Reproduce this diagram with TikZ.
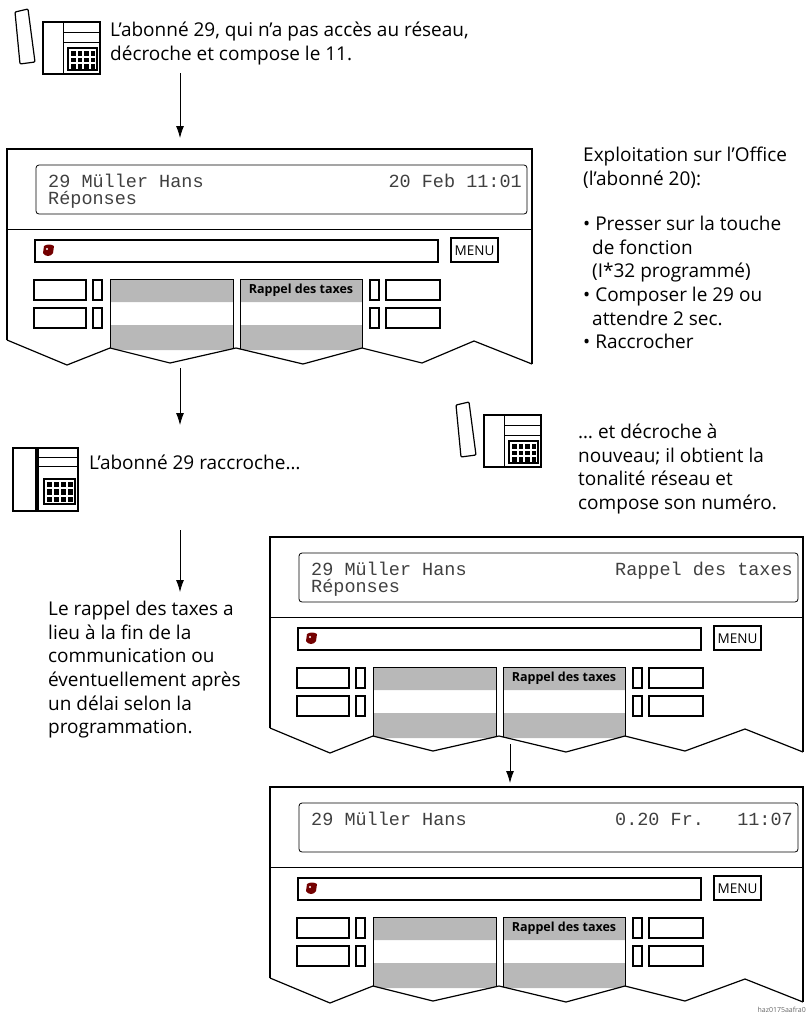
\documentclass[tikz,border=0pt]{standalone}
\usepackage{fontspec}
\setmainfont{Open Sans}
\newfontfamily\lcd{Liberation Mono}
\usetikzlibrary{arrows.meta}
\begin{document}
\begin{tikzpicture}[x=1pt,y=-1pt,
  txt/.style={anchor=north west,inner sep=0pt,align=left,font=\fontsize{19}{23.6}\selectfont},
  lcdt/.style={inner sep=0pt,font=\lcd\fontsize{18.5}{16}\selectfont,text=black!75},
  arr/.style={-{Latex[length=12pt,width=8pt]},line width=0.8pt},
  thk/.style={line width=1.4pt},
  key/.style={line width=1.2pt}]
\useasboundingbox (0,0) rectangle (806,1015);
% ---------- phone icons
\newcommand\phoneoff[2]{%
\begin{scope}[shift={(#1,#2)}]
 \draw[line width=1.2pt,rounded corners=1pt] (-28,-10)--(-15,-13)--(-8,40)--(-23,42)--cycle;
 \draw[line width=1.3pt] (0,0) rectangle (57,52);
 \draw[line width=1pt] (20,0)--(20,52) (20,10)--(57,10) (20,20)--(57,20);
 \draw[line width=1.2pt] (25,26) rectangle (54,48);
 \foreach \i in {0,1,2,3}{\foreach \j in {0,1,2}{\fill (28+\i*6.6,29+\j*6.6) rectangle +(4.6,4.6);}}
\end{scope}}
\newcommand\phoneon[2]{%
\begin{scope}[shift={(#1,#2)}]
 \draw[line width=1.3pt] (0,0) rectangle (23,63);
 \draw[line width=1.3pt] (25,0) rectangle (65,63);
 \draw[line width=1pt] (25,9)--(65,9) (25,18)--(65,18);
 \draw[line width=1.2pt] (31,31) rectangle (62,56);
 \foreach \i in {0,1,2,3}{\foreach \j in {0,1,2}{\fill (34+\i*7,34+\j*7.3) rectangle +(5,5.3);}}
\end{scope}}
% ---------- panel
\newcommand\mypanel[7]{%
\begin{scope}[shift={(#2,#3)}]
 \fill[black!28] (103,130) rectangle (226,153) (103,176) rectangle (226,201)
   (233,130) rectangle (355,153) (233,176) rectangle (355,201);
 \draw[line width=0.9pt] (103,201)--(103,130)--(226,130)--(226,201) (233,201)--(233,130)--(355,130)--(355,201);
 \node[inner sep=0pt,font=\bfseries\fontsize{12.5}{14}\selectfont] at (294,141.5) {Rappel des taxes};
 \draw[line width=1.2pt] (0,191)--(0,0)--(#4,0)--(#4,215);
 \fill[white] (0,191)--(60,216)--(103,199)--(163,214)--(229,199)--(296,215)--(355,199)--(415,214)--(#4-58,192)--(#4,215)--(#4,230)--(0,230)--cycle;
 \draw[line width=1.2pt] (0,191)--(60,216)--(103,199)--(163,214)--(229,199)--(296,215)--(355,199)--(415,214)--(#4-58,192)--(#4,215);
 \draw[line width=0.8pt,rounded corners=3pt] (29,16) rectangle (#4-5,65);
 \node[lcdt,anchor=base west] at (41,38) {#5};
 \node[lcdt,anchor=base east] at (#4-10,38) {#6};
 \node[lcdt,anchor=base west] at (41,55) {#7};
 \draw[line width=0.8pt] (0,80)--(#4,80);
 \draw[thk] (28,91) rectangle (431,113);
 \fill[red!45!black] (37,97) .. controls (40,95) and (44,95) .. (47,97) -- (46,104) .. controls (44,108) and (38,108) .. (36,104) -- cycle;
 \fill[white] (40,100) circle (1.2);
 \draw[thk] (444,89) rectangle (491,113);
 \node[inner sep=0pt,font=\fontsize{13.5}{16}\selectfont] at (467.5,101.5) {MENU};
 \draw[key] (27,131) rectangle (79,151) (27,159) rectangle (79,179) (86,131) rectangle (95,151) (86,159) rectangle (95,179)
   (363,131) rectangle (372,151) (363,159) rectangle (372,179) (379,131) rectangle (433,151) (379,159) rectangle (433,179);
\end{scope}}
% ---------- content
\phoneoff{43}{22}
\node[txt] (t1) at (110,22) {L’abonné 29, qui n’a pas accès au réseau,\\décroche et compose le 11.};
\coordinate (a1s) at (180,73); \coordinate (a1e) at (180,138);
\draw[arr] (a1s)--(a1e);
\mypanel{p1}{7}{149}{525}{29 Müller Hans}{20 Feb 11:01}{Réponses}
\node[txt] (t2) at (583,147) {Exploitation sur l’Office\\(l’abonné 20):};
\node[txt] (t3) at (583,216) {• Presser sur la touche\\\hspace*{9pt}de fonction\\\hspace*{9pt}(I*32 programmé)\\• Composer le 29 ou\\\hspace*{9pt}attendre 2 sec.\\• Raccrocher};
\coordinate (a2s) at (180,368); \coordinate (a2e) at (180,425);
\draw[arr] (a2s)--(a2e);
\phoneon{13}{448}
\node[txt] (t4) at (89,455) {L’abonné 29 raccroche…};
\phoneoff{484}{415}
\node[txt] (t5) at (578,424) {… et décroche à\\nouveau; il obtient la\\tonalité réseau et\\compose son numéro.};
\coordinate (a3s) at (180,530); \coordinate (a3e) at (180,592);
\draw[arr] (a3s)--(a3e);
\node[txt] (t6) at (48,601) {Le rappel des taxes a\\lieu à la fin de la\\communication ou\\éventuellement après\\un délai selon la\\programmation.};
\mypanel{p2}{270}{537}{533}{29 Müller Hans}{Rappel des taxes}{Réponses}
\coordinate (a4s) at (510,744); \coordinate (a4e) at (510,783);
\draw[arr] (a4s)--(a4e);
\mypanel{p3}{270}{787}{533}{29 Müller Hans}{0.20 Fr.\ \ \ 11:07}{}
\node[inner sep=0pt,anchor=south east,font=\fontsize{7}{8}\selectfont,text=black!60] (tag) at (806,1013) {haz0175aafra0};
\end{tikzpicture}
\end{document}
